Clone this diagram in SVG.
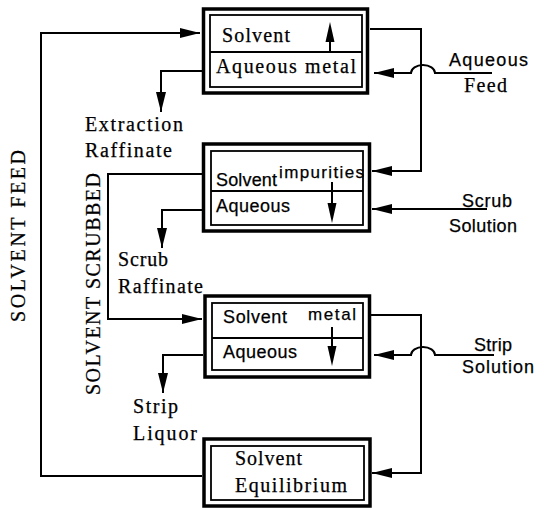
<svg xmlns="http://www.w3.org/2000/svg" width="544" height="510" viewBox="0 0 544 510">
<defs>
<marker id="ah" markerWidth="20" markerHeight="10" refX="20" refY="5" orient="auto" markerUnits="userSpaceOnUse"><path d="M0,0 L20,5 L0,10 z" fill="#000"/></marker>
<style>
.outer{fill:#fff;stroke:#000;stroke-width:3.5}
.inner{fill:none;stroke:#000;stroke-width:1.8}
.div{stroke:#000;stroke-width:1.8}
.ln{fill:none;stroke:#000;stroke-width:2}
.tip{fill:#000}
.serif{font-family:"Liberation Serif","Times New Roman",serif;font-size:20px;fill:#000;stroke:#000;stroke-width:0.25}
.sans{font-family:"Liberation Sans",Arial,sans-serif;font-size:18px;fill:#000;stroke:#000;stroke-width:0.25}
.sm{font-size:17px}
</style>
</defs>
<rect width="544" height="510" fill="#fff"/>
<g id="connectors">
<path class="ln" d="M202,476 H41 V33 H200" marker-end="url(#ah)"/>
<path class="ln" d="M202,71 H161 V112" marker-end="url(#ah)"/>
<path class="ln" d="M202,174 H108 V319 H202" marker-end="url(#ah)"/>
<path class="ln" d="M202,210 H162 V248" marker-end="url(#ah)"/>
<path class="ln" d="M203,355 H163 V393" marker-end="url(#ah)"/>
<path class="ln" d="M370,29 H421 V171 H372" marker-end="url(#ah)"/>
<path class="ln" d="M492,73 H435 A12,8 0 0 0 411,73 H374" marker-end="url(#ah)"/>
<path class="ln" d="M487,209 H372" marker-end="url(#ah)"/>
<path class="ln" d="M370,315 H421 V473 H372" marker-end="url(#ah)"/>
<path class="ln" d="M494,355 H435 A12,8 0 0 0 411,355 H374" marker-end="url(#ah)"/>
</g>
<g id="extraction">
<rect class="outer" x="203.5" y="9" width="164" height="84"/>
<rect class="inner" x="210" y="15" width="152" height="72"/>
<line class="div" x1="210" y1="52" x2="362" y2="52"/>
<path class="ln" d="M330,53 V40"/>
<polygon class="tip" points="330,22 334.5,42 325.5,42"/>
<text class="serif" x="222" y="42" textLength="68" lengthAdjust="spacing">Solvent</text>
<text class="serif" x="216" y="73" textLength="140" lengthAdjust="spacing">Aqueous metal</text>
</g>
<g id="scrub">
<rect class="outer" x="203.5" y="144" width="166" height="87"/>
<rect class="inner" x="211" y="151" width="152" height="74"/>
<line class="div" x1="211" y1="191" x2="363" y2="191"/>
<path class="ln" d="M332,182 V205"/>
<polygon class="tip" points="332,223 336.5,203 327.5,203"/>
<text class="sans" x="216" y="186" textLength="61" lengthAdjust="spacing">Solvent</text>
<text class="sans sm" x="279" y="178" textLength="85" lengthAdjust="spacing">impurities</text>
<text class="sans" x="216" y="212" textLength="74" lengthAdjust="spacing">Aqueous</text>
</g>
<g id="strip">
<rect class="outer" x="205" y="296" width="164.5" height="81"/>
<rect class="inner" x="212" y="303" width="151" height="67"/>
<line class="div" x1="212" y1="338" x2="363" y2="338"/>
<path class="ln" d="M332,327 V348"/>
<polygon class="tip" points="332,366 336.5,346 327.5,346"/>
<text class="sans" x="223" y="323" textLength="64" lengthAdjust="spacing">Solvent</text>
<text class="sans sm" x="308" y="320" textLength="48" lengthAdjust="spacing">metal</text>
<text class="sans" x="223" y="358" textLength="74" lengthAdjust="spacing">Aqueous</text>
</g>
<g id="equilibrium">
<rect class="outer" x="204" y="439" width="166" height="67"/>
<rect class="inner" x="211" y="446" width="153" height="54"/>
<text class="serif" x="235" y="465" textLength="67" lengthAdjust="spacing">Solvent</text>
<text class="serif" x="235" y="492" textLength="112" lengthAdjust="spacing">Equilibrium</text>
</g>
<g id="labels">
<text class="serif" x="85" y="131" textLength="98" lengthAdjust="spacing">Extraction</text>
<text class="serif" x="85" y="157" textLength="87" lengthAdjust="spacing">Raffinate</text>
<text class="serif" x="118" y="266" textLength="50" lengthAdjust="spacing">Scrub</text>
<text class="serif" x="118" y="293" textLength="85" lengthAdjust="spacing">Raffinate</text>
<text class="serif" x="133" y="413" textLength="45" lengthAdjust="spacing">Strip</text>
<text class="serif" x="133" y="440" textLength="64" lengthAdjust="spacing">Liquor</text>
<text class="sans" x="449" y="66" textLength="79" lengthAdjust="spacing">Aqueous</text>
<text class="serif" x="464" y="92" textLength="43" lengthAdjust="spacing">Feed</text>
<text class="sans" x="462" y="207" textLength="50" lengthAdjust="spacing">Scrub</text>
<text class="sans" x="449" y="232" textLength="68" lengthAdjust="spacing">Solution</text>
<text class="sans" x="474" y="351" textLength="38" lengthAdjust="spacing">Strip</text>
<text class="sans" x="462" y="373" textLength="72" lengthAdjust="spacing">Solution</text>
<text class="serif" transform="translate(25,236) rotate(-90)" text-anchor="middle" textLength="172" lengthAdjust="spacing">SOLVENT FEED</text>
<text class="serif" transform="translate(100,284) rotate(-90)" text-anchor="middle" textLength="222" lengthAdjust="spacing">SOLVENT SCRUBBED</text>
</g>
</svg>
